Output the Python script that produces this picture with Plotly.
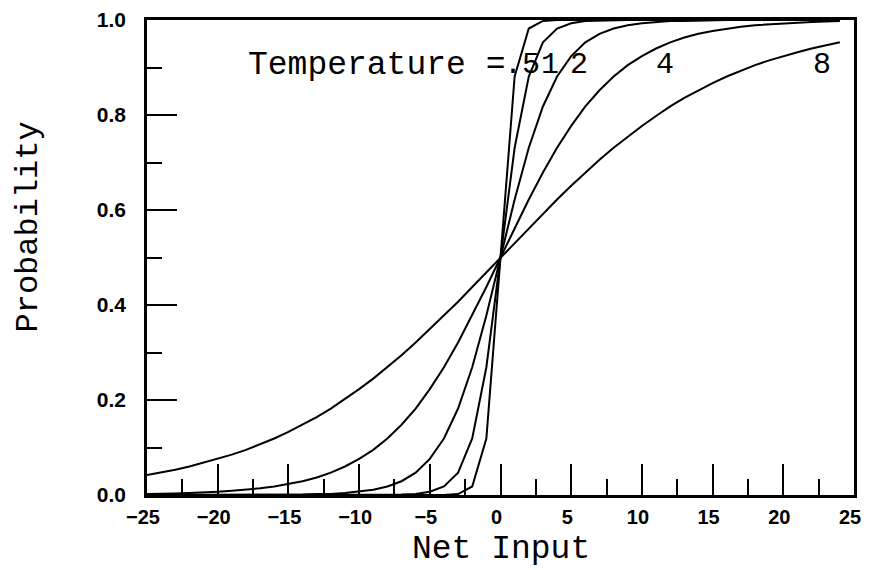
import plotly.graph_objects as go

# Net input values (x) sampled at integers
net_input = list(range(-25, 25))

# Probability for each temperature
prob_t8 = [0.042, 0.047, 0.053, 0.060, 0.068, 0.076, 0.085, 0.095, 0.107, 0.119,
           0.133, 0.148, 0.164, 0.182, 0.202, 0.223, 0.245, 0.269, 0.294, 0.321,
           0.349, 0.378, 0.407, 0.438, 0.469, 0.500, 0.531, 0.562, 0.593, 0.622,
           0.651, 0.679, 0.706, 0.731, 0.755, 0.777, 0.798, 0.818, 0.836, 0.852,
           0.867, 0.881, 0.893, 0.905, 0.915, 0.924, 0.932, 0.940, 0.947, 0.953]
prob_t4 = [0.002, 0.002, 0.003, 0.004, 0.005, 0.007, 0.009, 0.011, 0.014, 0.018,
           0.023, 0.029, 0.037, 0.047, 0.060, 0.076, 0.095, 0.119, 0.148, 0.182,
           0.223, 0.269, 0.321, 0.378, 0.438, 0.500, 0.562, 0.622, 0.679, 0.731,
           0.777, 0.818, 0.852, 0.881, 0.905, 0.924, 0.940, 0.953, 0.963, 0.971,
           0.977, 0.982, 0.986, 0.989, 0.991, 0.993, 0.995, 0.996, 0.997, 0.998]
prob_t2 = [0.000, 0.000, 0.000, 0.000, 0.000, 0.000, 0.000, 0.000, 0.000, 0.000,
           0.001, 0.001, 0.002, 0.002, 0.004, 0.007, 0.011, 0.018, 0.029, 0.047,
           0.076, 0.119, 0.182, 0.269, 0.378, 0.500, 0.622, 0.731, 0.818, 0.881,
           0.924, 0.953, 0.971, 0.982, 0.989, 0.993, 0.996, 0.998, 0.998, 0.999,
           0.999, 1.000, 1.000, 1.000, 1.000, 1.000, 1.000, 1.000, 1.000, 1.000]
prob_t1 = [0.000, 0.000, 0.000, 0.000, 0.000, 0.000, 0.000, 0.000, 0.000, 0.000,
           0.000, 0.000, 0.000, 0.000, 0.000, 0.000, 0.000, 0.000, 0.001, 0.002,
           0.007, 0.018, 0.047, 0.119, 0.269, 0.500, 0.731, 0.881, 0.953, 0.982,
           0.993, 0.998, 0.999, 1.000, 1.000, 1.000, 1.000, 1.000, 1.000, 1.000,
           1.000, 1.000, 1.000, 1.000, 1.000, 1.000, 1.000, 1.000, 1.000, 1.000]
prob_t05 = [0.000, 0.000, 0.000, 0.000, 0.000, 0.000, 0.000, 0.000, 0.000, 0.000,
            0.000, 0.000, 0.000, 0.000, 0.000, 0.000, 0.000, 0.000, 0.000, 0.000,
            0.000, 0.000, 0.002, 0.018, 0.119, 0.500, 0.881, 0.982, 0.998, 1.000,
            1.000, 1.000, 1.000, 1.000, 1.000, 1.000, 1.000, 1.000, 1.000, 1.000,
            1.000, 1.000, 1.000, 1.000, 1.000, 1.000, 1.000, 1.000, 1.000, 1.000]

series = [prob_t05, prob_t1, prob_t2, prob_t4, prob_t8]

# Curve labels and their positions (x, y in data units)
curve_labels = [".5", "1", "2", "4", "8"]
label_x = [1.5, 3.5, 5.55, 11.63, 22.74]
label_y = 0.905
prefix_text = "Temperature ="
prefix_x = -17.93

x_tick_vals = [-25, -20, -15, -10, -5, 0, 5, 10, 15, 20, 25]
y_tick_vals = [0.0, 0.2, 0.4, 0.6, 0.8, 1.0]

fig = go.Figure()
for ys in series:
    fig.add_trace(go.Scatter(x=net_input, y=ys, mode="lines",
                             line=dict(color="black", width=2),
                             showlegend=False, hoverinfo="skip"))

serif = "Liberation Mono"
xtickfont = dict(family="Liberation Sans", size=20, color="black", weight="bold")
ytickfont = dict(family="Liberation Sans", size=21, color="black", weight="bold")

fig.add_annotation(x=prefix_x, y=label_y, xref="x", yref="y", text=prefix_text,
                   showarrow=False, xanchor="left", yanchor="middle", borderpad=0,
                   font=dict(family=serif, size=33, color="black"))
for t, lx in zip(curve_labels, label_x):
    fig.add_annotation(x=lx, y=label_y, xref="x", yref="y", text=t,
                       showarrow=False, xanchor="center", yanchor="middle",
                       borderpad=0, font=dict(family=serif, size=30, color="black"))

fig.add_annotation(x=0.5, y=0, xref="paper", yref="paper", text="Net Input",
                   showarrow=False, xanchor="center", yanchor="middle", yshift=-54,
                   font=dict(family=serif, size=33, color="black"))
fig.add_annotation(x=0, y=0.5, xref="paper", yref="paper", text="Probability",
                   showarrow=False, xanchor="center", yanchor="middle", xshift=-119,
                   yshift=30, textangle=-90,
                   font=dict(family=serif, size=32, color="black"))

fig.update_xaxes(range=[-25, 25], tickvals=x_tick_vals, ticks="inside", ticklen=31,
                 tickwidth=2, tickcolor="black", showline=True, linewidth=2.5,
                 linecolor="black", mirror=True, showgrid=False, zeroline=False,
                 tickfont=xtickfont, ticklabelstandoff=2, ticklabeloverflow="allow",
                 ticklabelshift=-4, automargin=False,
                 minor=dict(dtick=2.5, tick0=0, ticks="inside", ticklen=16,
                            tickwidth=2, tickcolor="black", showgrid=False))
fig.update_yaxes(range=[0, 1], tickvals=y_tick_vals, tickformat=".1f", ticks="inside",
                 ticklen=30, tickwidth=2, tickcolor="black", showline=True,
                 linewidth=2.5, linecolor="black", mirror=True, showgrid=False,
                 zeroline=False, tickfont=ytickfont, ticklabelstandoff=14,
                 ticklabeloverflow="allow", automargin=False,
                 minor=dict(dtick=0.1, tick0=0, ticks="inside", ticklen=15,
                            tickwidth=2, tickcolor="black", showgrid=False))

# page body adds an 8px offset, so the figure is sized to fit the window
fig.update_layout(width=861, height=562, plot_bgcolor="white", paper_bgcolor="white",
                  margin=dict(l=139, r=15, t=12, b=75, autoexpand=False))

fig.write_html("out.html")
